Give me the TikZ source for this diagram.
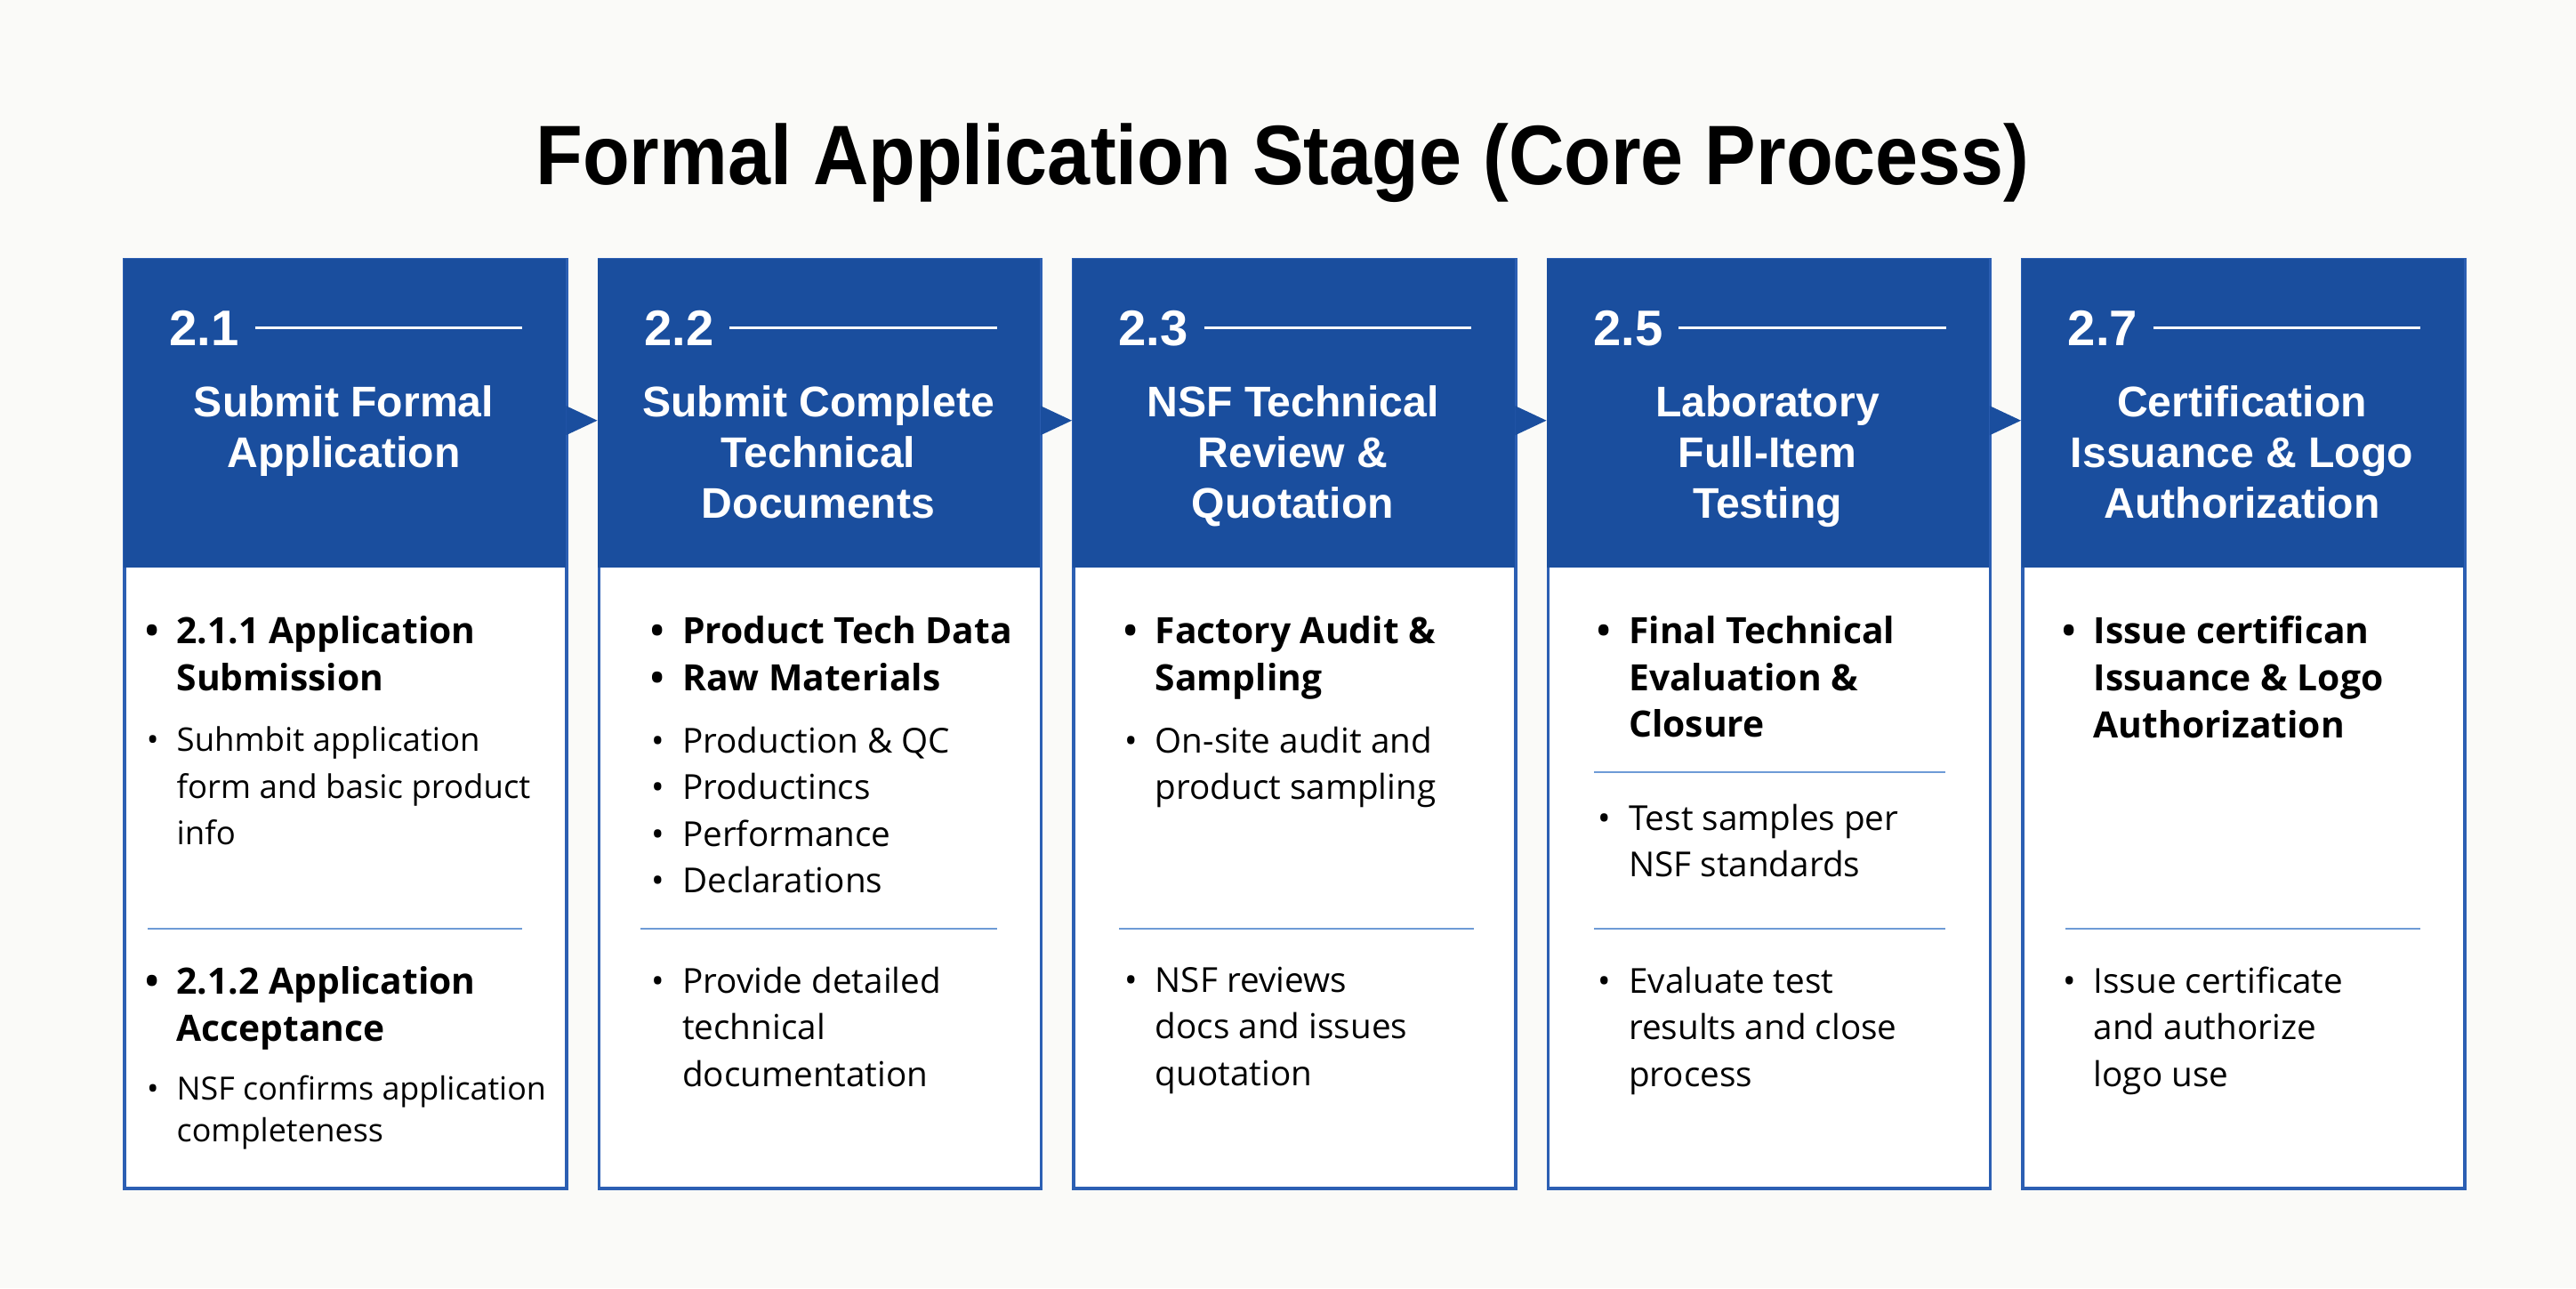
\documentclass[tikz,border=0pt]{standalone}
\usepackage{fontspec}
\usepackage{graphicx}
\setmainfont{Open Sans}
\newfontfamily\headfont{Liberation Sans}
\usetikzlibrary{arrows}
\definecolor{stageblue}{HTML}{1A4E9E}
\definecolor{frameblue}{HTML}{2C5FB3}
\definecolor{ruleblue}{HTML}{6E9BD6}
\definecolor{paper}{HTML}{FAFAF8}
\newcommand{\bul}{\llap{\textbullet\hspace{0.2cm}}}

\begin{document}
\begin{tikzpicture}[
		colbox/.style={draw=frameblue, line width=1pt, fill=white, minimum width=4.97cm, minimum height=10.44cm, anchor=north west, inner sep=0pt},
		headbox/.style={fill=stageblue, minimum width=4.97cm, minimum height=3.47cm, anchor=north west, inner sep=0pt},
		stepnum/.style={anchor=base west, inner sep=0pt, text=white, font=\headfont\bfseries\fontsize{16}{18}\selectfont},
		steptitle/.style={anchor=north, align=center, inner sep=0pt, text=white, font=\headfont\bfseries\fontsize{13.7}{16.2}\selectfont, execute at begin node={\rule{0pt}{0.45cm}}},
		bodybold/.style={anchor=north west, align=left, inner sep=0pt, font=\bfseries\fontsize{11.6}{14.95}\selectfont, execute at begin node={\rule{0pt}{0.4cm}}},
		bodytext/.style={anchor=north west, align=left, inner sep=0pt, font=\fontsize{11}{14.95}\selectfont, execute at begin node={\rule{0pt}{0.4cm}}},
		divider/.style={draw=ruleblue, line width=0.6pt},
		numrule/.style={draw=white, line width=0.8pt},
	]
		\fill[paper] (0,0) rectangle (28.96,-14.48);
		\useasboundingbox (0,0) rectangle (28.96,-14.48);

		\node (title) at (14.42,-2.07) [anchor=base, inner sep=0pt, font=\headfont\bfseries\fontsize{27}{30}\selectfont]
			{\scalebox{0.91}[1]{Formal Application Stage (Core Process)}};

		% --- frames and blue heads ---
		\node (c1) at (1.38,-2.9) [colbox] {};
		\node (c2) at (6.715,-2.9) [colbox] {};
		\node (c3) at (12.05,-2.9) [colbox] {};
		\node (c4) at (17.385,-2.9) [colbox] {};
		\node (c5) at (22.72,-2.9) [colbox] {};
		\node (h1) at (1.38,-2.9) [headbox] {};
		\node (h2) at (6.715,-2.9) [headbox] {};
		\node (h3) at (12.05,-2.9) [headbox] {};
		\node (h4) at (17.385,-2.9) [headbox] {};
		\node (h5) at (22.72,-2.9) [headbox] {};

		% --- small arrows between heads ---
		\fill[stageblue] ([yshift=0.08cm]h1.east) -- ([yshift=-0.25cm]h1.east) -- ([yshift=-0.085cm]h2.west) -- cycle;
		\fill[stageblue] ([yshift=0.08cm]h2.east) -- ([yshift=-0.25cm]h2.east) -- ([yshift=-0.085cm]h3.west) -- cycle;
		\fill[stageblue] ([yshift=0.08cm]h3.east) -- ([yshift=-0.25cm]h3.east) -- ([yshift=-0.085cm]h4.west) -- cycle;
		\fill[stageblue] ([yshift=0.08cm]h4.east) -- ([yshift=-0.25cm]h4.east) -- ([yshift=-0.085cm]h5.west) -- cycle;

		% --- step numbers ---
		\node (n1) at (1.9,-3.88) [stepnum] {2.1};
		\node (n2) at (7.235,-3.88) [stepnum] {2.2};
		\node (n3) at (12.57,-3.88) [stepnum] {2.3};
		\node (n4) at (17.905,-3.88) [stepnum] {2.5};
		\node (n5) at (23.24,-3.88) [stepnum] {2.7};
		\draw[numrule] ([xshift=0.17cm]n1.east) -- (5.87,0 |- n1.east);
		\draw[numrule] ([xshift=0.17cm]n2.east) -- (11.205,0 |- n2.east);
		\draw[numrule] ([xshift=0.17cm]n3.east) -- (16.54,0 |- n3.east);
		\draw[numrule] ([xshift=0.17cm]n4.east) -- (21.875,0 |- n4.east);
		\draw[numrule] ([xshift=0.17cm]n5.east) -- (27.21,0 |- n5.east);

		% --- step titles ---
		\node (t1) at (3.865,-4.33) [steptitle] {Submit Formal\\Application};
		\node (t2) at (9.2,-4.33) [steptitle] {Submit Complete\\Technical\\Documents};
		\node (t3) at (14.535,-4.33) [steptitle] {NSF Technical\\Review \&\\Quotation};
		\node (t4) at (19.87,-4.33) [steptitle] {Laboratory\\Full-Item\\Testing};
		\node (t5) at (25.205,-4.33) [steptitle] {Certification\\Issuance \& Logo\\Authorization};

		% --- column 1 ---
		\node (a1) at (1.98,-6.92) [bodybold] {\bul 2.1.1 Application\\Submission};
		\node (a2) at (1.98,-8.16) [bodytext, font=\fontsize{10.4}{14.95}\selectfont] {\bul Suhmbit application\\form and basic product\\info};
		\draw[divider] (1.66,-10.44) -- (5.87,-10.44);
		\node (a3) at (1.98,-10.86) [bodybold] {\bul 2.1.2 Application\\Acceptance};
		\node (a4) at (1.98,-12.08) [bodytext, font=\fontsize{10.2}{13.6}\selectfont] {\bul NSF confirms application\\completeness};

		% --- column 2 ---
		\node (b1) at (7.665,-6.92) [bodybold] {\bul Product Tech Data\\\bul Raw Materials};
		\node (b2) at (7.665,-8.16) [bodytext] {\bul Production \& QC\\\bul Productincs\\\bul Performance\\\bul Declarations};
		\draw[divider] (7.2,-10.44) -- (11.21,-10.44);
		\node (b3) at (7.665,-10.86) [bodytext] {\bul Provide detailed\\technical\\documentation};

		% --- column 3 ---
		\node (d1) at (12.98,-6.92) [bodybold] {\bul Factory Audit \&\\Sampling};
		\node (d2) at (12.98,-8.16) [bodytext] {\bul On-site audit and\\product sampling};
		\draw[divider] (12.58,-10.44) -- (16.57,-10.44);
		\node (d3) at (12.98,-10.86) [bodytext] {\bul NSF reviews\\docs and issues\\quotation};

		% --- column 4 ---
		\node (e1) at (18.305,-6.92) [bodybold] {\bul Final Technical\\Evaluation \&\\Closure};
		\draw[divider] (17.92,-8.68) -- (21.87,-8.68);
		\node (e2) at (18.305,-9.03) [bodytext] {\bul Test samples per\\NSF standards};
		\draw[divider] (17.92,-10.44) -- (21.87,-10.44);
		\node (e3) at (18.305,-10.86) [bodytext] {\bul Evaluate test\\results and close\\process};

		% --- column 5 ---
		\node (g1) at (23.53,-6.92) [bodybold] {\bul Issue certifican\\Issuance \& Logo\\Authorization};
		\draw[divider] (23.22,-10.44) -- (27.21,-10.44);
		\node (g3) at (23.53,-10.86) [bodytext] {\bul Issue certificate\\and authorize\\logo use};
	\end{tikzpicture}
\end{document}
